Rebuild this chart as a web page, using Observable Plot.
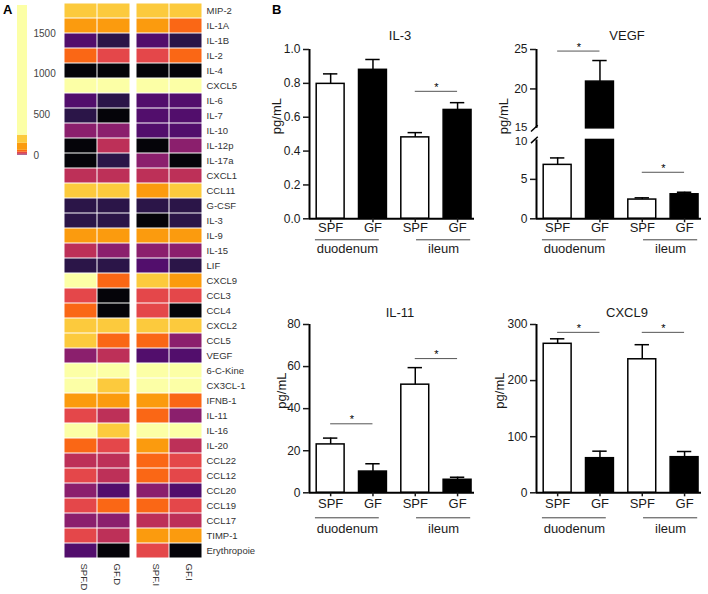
<!DOCTYPE html>
<html><head><meta charset="utf-8">
<script src="https://cdn.jsdelivr.net/npm/d3@7"></script>
<script src="https://cdn.jsdelivr.net/npm/@observablehq/plot@0.6"></script>
<style>
body{margin:0;background:#fff;font-family:"Liberation Sans",Arial,sans-serif;}
#root{position:relative;width:708px;height:594px;overflow:hidden;background:#fff;}
.lbl{position:absolute;font-weight:bold;font-size:13px;line-height:13px;color:#000;}
</style></head><body>
<div id="root"><div class="lbl" style="left:3px;top:3px">A</div><div class="lbl" style="left:272px;top:3px">B</div></div>
<script>
// ---------- Panel A: heatmap data ----------
const cytokines = ["MIP-2","IL-1A","IL-1B","IL-2","IL-4","CXCL5","IL-6","IL-7","IL-10","IL-12p","IL-17a","CXCL1","CCL11","G-CSF","IL-3","IL-9","IL-15","LIF","CXCL9","CCL3","CCL4","CXCL2","CCL5","VEGF","6-C-Kine","CX3CL-1","IFNB-1","IL-11","IL-16","IL-20","CCL22","CCL12","CCL20","CCL19","CCL17","TIMP-1","Erythropoie"];
const heatSamples = ["SPF.D","GF.D","SPF.I","GF.I"];
const spfD = [195,110,2.6,55,0.3,1750,2.2,0.9,6.0,0.4,0.35,14,190,0.9,0.80,105,12,0.9,265.6,30,55,200,180,6.8,1200,600,100,23,700,50,15,28,7,30,6.5,31,2.5];
const gfD  = [210,105,0.9,30,0.25,1600,1.1,0.4,6.5,15,0.8,13,185,1.0,0.88,100,7,1.0,61.7,0.3,0.3,195,56,20.9,1100,220,95,10.1,230,30,16,14,3,50,7.5,15,0.3];
const spfI = [190,115,2.4,32,0.3,1700,2.5,2.3,2.7,0.45,6.8,16,120,0.85,0.48,110,6.5,2.2,238,29,30,205,52,2.4,1250,650,105,51.4,750,90,52,55,6.6,53,13,95,27];
const gfI  = [205,58,1.0,50,0.35,1550,2.8,2.6,2.5,7,0.4,15,195,0.95,0.64,115,7.2,0.95,63.6,31,0.35,190,7,3.1,1150,620,54,6.2,720,14,29,27,2.8,28,12,100,0.35];
const breaks = [0.55, 1.5, 4, 9, 22, 40, 63.5, 150, 250];
const palette = ["#050409","#2b1548","#520e6c","#8b1f6d","#bd3058","#e4474a","#fa6715","#fb9b0e","#fcca3d","#fcffa6"];
const colorbarTop = 1845;
const colorbarTicks = [0, 500, 1000, 1500];

// ---------- Panel B: bar data ----------
const conds = ["SPF","GF","SPF","GF"];
const groupNames = ["duodenum","ileum"];
const il3Mean = [0.797, 0.880, 0.481, 0.643];
const il3Err  = [0.059, 0.061, 0.028, 0.043];
const il3Sig  = [{g: 2, y: 0.753}];
const vegfMean = [6.84, 20.93, 2.44, 3.11];
const vegfErr  = [0.88, 2.67, 0.22, 0.26];
const vegfSig  = [{g: 0, y: 24.8}, {g: 2, y: 5.9}];
const il11Mean = [23.0, 10.1, 51.4, 6.2];
const il11Err  = [3.0, 3.7, 8.1, 1.2];
const il11Sig  = [{g: 0, y: 32.8}, {g: 2, y: 63.8}];
const cxcl9Mean = [265.6, 61.7, 238, 63.5];
const cxcl9Err  = [8.9, 12.5, 26, 10.1];
const cxcl9Sig  = [{g: 0, y: 286}, {g: 2, y: 286}];

const root = document.getElementById("root");
const FONT = "'Liberation Sans', Arial, sans-serif";
function place(svg, left, top) {
  svg.style.position = "absolute";
  svg.style.left = left + "px";
  svg.style.top = top + "px";
  svg.style.background = "transparent";
  svg.style.overflow = "visible";
  svg.style.fontFamily = FONT;
  svg.style.maxWidth = "none";
  root.appendChild(svg);
}
const colorScale = {type: "threshold", domain: breaks, range: palette};

// colorbar
const cbEdges = [0, ...breaks, colorbarTop];
const cbBins = palette.map((c, k) => ({lo: cbEdges[k], hi: cbEdges[k + 1]}));
place(Plot.plot({
  width: 60, height: 160, marginLeft: 17, marginRight: 33, marginTop: 5, marginBottom: 5,
  y: {domain: [0, colorbarTop], axis: null},
  color: colorScale,
  marks: [
    Plot.rect(cbBins, {y1: "lo", y2: "hi", fill: "lo"}),
    Plot.axisY({anchor: "right", ticks: colorbarTicks, tickFormat: d3.format("d"), tickSize: 0, tickPadding: 6, fontSize: 10, color: "#444", label: null})
  ]
}), 0, 0);

// heatmap
const heatCols = [spfD, gfD, spfI, gfI];
const cells = cytokines.flatMap((c, r) => heatSamples.map((s, j) => ({cyt: c, cond: s.split(".")[0], tissue: s.split(".")[1], value: heatCols[j][r]})));
const sampleLabels = heatSamples.map(s => ({name: s, cond: s.split(".")[0], tissue: s.split(".")[1]}));
place(Plot.plot({
  width: 262, height: 594, marginLeft: 63, marginRight: 59, marginTop: 3, marginBottom: 36,
  fx: {domain: ["D","I"], paddingInner: 0.082, paddingOuter: 0, axis: null, label: null},
  x: {domain: ["SPF","GF"], padding: 0, axis: null},
  y: {domain: cytokines, padding: 0, axis: null},
  color: colorScale,
  marks: [
    Plot.cell(cells, {fx: "tissue", x: "cond", y: "cyt", fill: "value", inset: 0.5}),
    Plot.axisY({anchor: "right", tickSize: 0, tickPadding: 4, fontSize: 9.5, color: "#333", label: null}),
    Plot.text(sampleLabels, {fx: "tissue", x: "cond", text: "name", frameAnchor: "bottom", rotate: 90, textAnchor: "start", dy: 5, fontSize: 9.5, fill: "#333"})
  ]
}), 0, 0);

// bar panels
function barPanel(p) {
  const b = p.brk;
  const f = b ? (v => v > (b.lo + b.hi) / 2 ? v - b.hi + b.lo + b.gap : v) : (v => v);
  const inv = b ? (v => v > b.lo + b.gap / 2 ? v + b.hi - b.lo - b.gap : v) : (v => v);
  const bars = p.means.map((m, i) => ({i, m, e: p.errs[i], fill: conds[i] === "SPF" ? "white" : "black"}));
  const segs = bars.flatMap(d => (b && d.m > b.hi ? [[0, b.lo], [b.hi, d.m]] : [[0, d.m]]).map(([a, c]) => ({...d, y1: f(a), y2: f(c)})));
  const axisSegs = b ? [[0, b.lo], [b.hi, p.yMax]] : [[0, p.yMax]];
  const spans = [[-0.36, 1.15], [2.03, 3.31]];
  const groups = groupNames.map((n, k) => ({name: n, x1: spans[k][0], x2: spans[k][1]}));
  const tickVals = p.ticks.filter(t => !(b && (t === b.lo || t === b.hi)));
  const fmt = v => p.fmt(Math.round(inv(v) * 1000) / 1000);
  const fh = p.fh;
  return Plot.plot({
    width: 240, height: p.height, marginLeft: 69, marginRight: 6, marginTop: p.mt, marginBottom: p.height - p.mt - fh,
    x: {domain: [-0.5, 3.4], axis: null},
    y: {domain: [0, f(p.yMax)], axis: null},
    marks: [
      Plot.rect(segs, {x1: d => d.i - 0.33, x2: d => d.i + 0.33, y1: "y1", y2: "y2", fill: "fill", stroke: "black", strokeWidth: 1.5}),
      Plot.ruleX(bars, {x: "i", y1: d => f(d.m), y2: d => f(d.m + d.e), strokeWidth: 1.5}),
      Plot.ruleY(bars, {y: d => f(d.m + d.e), x1: d => d.i - 0.17, x2: d => d.i + 0.17, strokeWidth: 1.5}),
      Plot.ruleX(axisSegs, {x: () => -0.5, y1: d => f(d[0]), y2: d => f(d[1]), strokeWidth: 2}),
      Plot.ruleY([0], {x1: () => -0.5, x2: () => 3.4, strokeWidth: 2}),
      Plot.axisY({ticks: tickVals.map(f), tickFormat: fmt, tickSize: 6, tickPadding: 3, fontSize: 12, strokeWidth: 1.5, color: "#1a1a1a", label: null}),
      ...(b ? [
        Plot.axisY({ticks: [f(b.hi)], tickFormat: fmt, tickSize: 0, tickPadding: 9, fontSize: 11.5, dy: -1.5, color: "#1a1a1a", label: null}),
        Plot.axisY({ticks: [f(b.lo)], tickFormat: fmt, tickSize: 0, tickPadding: 9, fontSize: 11.5, dy: 1.5, color: "#1a1a1a", label: null}),
        Plot.link([b.lo, b.hi], {x1: () => -0.63, x2: () => -0.47, y1: d => f(d) - 0.4, y2: d => f(d) + 0.4, strokeWidth: 1.5})
      ] : []),
      Plot.axisX({ticks: [0, 1, 2, 3], tickFormat: i => conds[i], tickSize: 4, tickPadding: p.xPad, fontSize: 13, strokeWidth: 1.5, color: "#1a1a1a", label: null}),
      Plot.ruleY(p.sig, {y: d => f(d.y), x1: d => d.g, x2: d => d.g + 1, stroke: "#555", strokeWidth: 1}),
      Plot.text(p.sig, {y: d => f(d.y), x: d => d.g + 0.5, text: () => "*", dy: -4, fontSize: 11}),
      Plot.ruleY(groups, {y: () => 0, x1: "x1", x2: "x2", dy: p.lineDy, stroke: "#444", strokeWidth: 1}),
      Plot.text(groups, {y: () => 0, x: d => (d.x1 + d.x2) / 2, text: "name", dy: p.groupDy, fontSize: 13, fill: "#1a1a1a"}),
      Plot.text([p.title], {text: d => d, frameAnchor: "top", dy: p.titleDy, dx: 8, fontSize: 13, fill: "#1a1a1a"}),
      Plot.text(["pg/mL"], {text: d => d, frameAnchor: "left", rotate: -90, dx: p.labelDx, fontSize: 13, fill: "#1a1a1a"})
    ]
  });
}

const topRow = {height: 290, mt: 49, fh: 169.3, titleDy: -19, xPad: 0, lineDy: 21, groupDy: 30};
const botRow = {height: 304, mt: 34, fh: 168.3, titleDy: -17, xPad: 2, lineDy: 25, groupDy: 36};
place(barPanel({...topRow, title: "IL-3", means: il3Mean, errs: il3Err, sig: il3Sig, ticks: [0, 0.2, 0.4, 0.6, 0.8, 1.0], yMax: 1.0, fmt: d3.format(".1f"), labelDx: -33}), 240, 0);
place(barPanel({...topRow, title: "VEGF", means: vegfMean, errs: vegfErr, sig: vegfSig, ticks: [0, 5, 10, 15, 20, 25], yMax: 25, fmt: d => String(Math.round(d)), brk: {lo: 10, hi: 15, gap: 1.47}, labelDx: -33}), 467, 0);
place(barPanel({...botRow, title: "IL-11", means: il11Mean, errs: il11Err, sig: il11Sig, ticks: [0, 20, 40, 60, 80], yMax: 80, fmt: d => String(Math.round(d)), labelDx: -28}), 240, 290);
place(barPanel({...botRow, title: "CXCL9", means: cxcl9Mean, errs: cxcl9Err, sig: cxcl9Sig, ticks: [0, 100, 200, 300], yMax: 300, fmt: d => String(Math.round(d)), labelDx: -37}), 467, 290);
</script>
</body></html>
